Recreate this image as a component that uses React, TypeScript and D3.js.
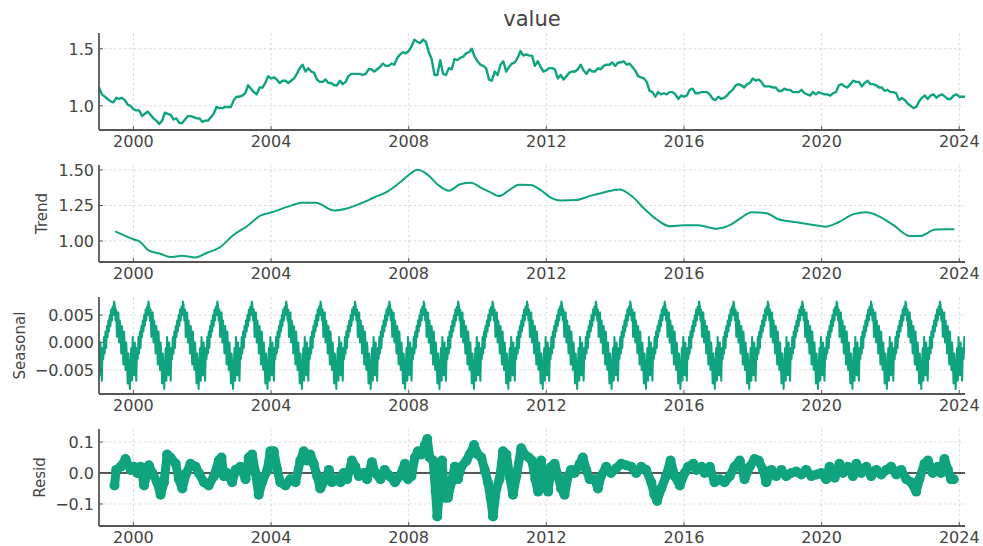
import React, { useEffect, useRef } from 'react';
import * as d3 from 'd3';

// monthly value, Jan 1999 .. Mar 2024
const valueMonthly = [
  1.16, 1.10, 1.08, 1.06, 1.04, 1.03, 1.07, 1.06, 1.07, 1.05, 1.01, 1.00,
  0.97, 0.96, 0.96, 0.91, 0.93, 0.95, 0.92, 0.89, 0.87, 0.84, 0.87, 0.94,
  0.93, 0.92, 0.88, 0.89, 0.85, 0.85, 0.88, 0.91, 0.91, 0.90, 0.89, 0.89,
  0.86, 0.87, 0.87, 0.90, 0.93, 0.99, 0.98, 0.98, 0.99, 0.99, 0.99, 1.05,
  1.08, 1.08, 1.09, 1.11, 1.18, 1.15, 1.12, 1.10, 1.16, 1.16, 1.20, 1.26,
  1.24, 1.25, 1.23, 1.20, 1.22, 1.22, 1.20, 1.22, 1.24, 1.28, 1.33, 1.36,
  1.30, 1.33, 1.30, 1.29, 1.23, 1.21, 1.21, 1.23, 1.20, 1.20, 1.18, 1.18,
  1.22, 1.19, 1.21, 1.26, 1.28, 1.28, 1.28, 1.28, 1.27, 1.28, 1.32, 1.32,
  1.30, 1.32, 1.34, 1.37, 1.35, 1.35, 1.37, 1.36, 1.42, 1.45, 1.47, 1.46,
  1.48, 1.52, 1.58, 1.56, 1.55, 1.58, 1.56, 1.47, 1.41, 1.27, 1.27, 1.40,
  1.28, 1.27, 1.33, 1.32, 1.41, 1.40, 1.42, 1.43, 1.46, 1.47, 1.50, 1.43,
  1.39, 1.36, 1.35, 1.33, 1.23, 1.22, 1.30, 1.27, 1.36, 1.39, 1.30, 1.34,
  1.37, 1.38, 1.42, 1.48, 1.44, 1.45, 1.44, 1.44, 1.35, 1.39, 1.34, 1.30,
  1.31, 1.33, 1.33, 1.32, 1.24, 1.27, 1.23, 1.26, 1.29, 1.30, 1.30, 1.32,
  1.36, 1.31, 1.28, 1.32, 1.30, 1.30, 1.33, 1.32, 1.35, 1.36, 1.36, 1.38,
  1.35, 1.38, 1.38, 1.39, 1.36, 1.37, 1.34, 1.31, 1.26, 1.25, 1.24, 1.21,
  1.13, 1.12, 1.08, 1.12, 1.10, 1.11, 1.10, 1.12, 1.12, 1.10, 1.06, 1.09,
  1.08, 1.09, 1.14, 1.15, 1.11, 1.11, 1.12, 1.12, 1.12, 1.10, 1.06, 1.05,
  1.08, 1.06, 1.07, 1.09, 1.12, 1.14, 1.18, 1.19, 1.18, 1.16, 1.19, 1.20,
  1.24, 1.22, 1.23, 1.21, 1.17, 1.17, 1.17, 1.16, 1.16, 1.13, 1.13, 1.15,
  1.14, 1.14, 1.12, 1.12, 1.12, 1.14, 1.11, 1.10, 1.09, 1.12, 1.10, 1.12,
  1.11, 1.10, 1.10, 1.09, 1.11, 1.12, 1.18, 1.19, 1.17, 1.16, 1.19, 1.22,
  1.21, 1.21, 1.17, 1.20, 1.22, 1.19, 1.19, 1.18, 1.16, 1.16, 1.13, 1.14,
  1.12, 1.12, 1.11, 1.05, 1.07, 1.05, 1.02, 1.00, 0.98, 0.99, 1.04, 1.07,
  1.09, 1.06, 1.09, 1.10, 1.07, 1.09, 1.10, 1.08, 1.06, 1.06, 1.09, 1.10,
  1.08, 1.08, 1.08,
];

const trendYears = [
  1999.47, 2000.0, 2000.2, 2000.44, 2000.78, 2001.07, 2001.4, 2001.8, 2002.14, 2002.5,
  2002.9, 2003.3, 2003.7, 2004.0, 2004.47, 2004.9, 2005.3, 2005.83, 2006.2, 2006.6,
  2006.99, 2007.38, 2007.77, 2008.0, 2008.25, 2008.54, 2008.83, 2009.17, 2009.5, 2009.8,
  2010.14, 2010.34, 2010.63, 2010.92, 2011.21, 2011.55, 2011.84, 2012.14, 2012.43, 2012.86,
  2013.25, 2013.64, 2014.13, 2014.47, 2014.86, 2015.2, 2015.58, 2016.0, 2016.41, 2016.94,
  2017.33, 2017.67, 2017.96, 2018.4, 2018.74, 2019.27, 2019.76, 2020.1, 2020.49, 2020.93,
  2021.31, 2021.7, 2022.09, 2022.57, 2022.86, 2023.3, 2023.64, 2023.86,
];
const trendValues = [
  1.068, 1.012, 0.993, 0.934, 0.91, 0.887, 0.896, 0.884, 0.917, 0.953,
  1.04, 1.104, 1.18, 1.2, 1.24, 1.27, 1.27, 1.215, 1.229, 1.264,
  1.306, 1.347, 1.417, 1.465, 1.502, 1.469, 1.4, 1.354, 1.4, 1.41,
  1.37, 1.347, 1.316, 1.358, 1.396, 1.394, 1.358, 1.304, 1.285, 1.288,
  1.316, 1.34, 1.363, 1.318, 1.224, 1.153, 1.104, 1.111, 1.111, 1.087,
  1.111, 1.165, 1.203, 1.196, 1.153, 1.132, 1.113, 1.101, 1.132, 1.189,
  1.203, 1.17, 1.111, 1.035, 1.035, 1.08, 1.083, 1.083,
];

// one year of the seasonal component (repeats every year by construction)
const seasonalShape = [
  -0.002, -0.006, 0.0, -0.004, -0.007, -0.001, -0.003, 0.001, -0.002, 0.002, -0.001, 0.003,
  0.001, 0.004, 0.002, 0.005, 0.003, 0.006, 0.004, 0.0065, 0.005, 0.0075, 0.0068, 0.004,
  0.006, 0.001, 0.005, 0.0055, 0.0, 0.004, 0.002, -0.002, 0.003, 0.0005, -0.004, 0.002,
  -0.001, -0.005, 0.0, -0.003, -0.0075, -0.002, -0.005, -0.0085, -0.004, -0.001, -0.007, 0.001,
];

const residYears = [
  1999.45, 1999.5, 1999.63, 1999.77, 1999.92, 2000.02, 2000.11, 2000.21, 2000.31, 2000.45,
  2000.55, 2000.69, 2000.79, 2000.89, 2000.98, 2001.08, 2001.23, 2001.32, 2001.42, 2001.54,
  2001.66, 2001.81, 2001.9, 2002.05, 2002.19, 2002.34, 2002.48, 2002.56, 2002.63, 2002.72,
  2002.87, 2002.97, 2003.11, 2003.26, 2003.35, 2003.45, 2003.55, 2003.64, 2003.74, 2003.89,
  2003.98, 2004.08, 2004.18, 2004.27, 2004.42, 2004.56, 2004.71, 2004.85, 2004.95, 2005.05,
  2005.14, 2005.24, 2005.34, 2005.43, 2005.58, 2005.68, 2005.77, 2005.92, 2006.02, 2006.11,
  2006.21, 2006.35, 2006.45, 2006.55, 2006.69, 2006.79, 2006.93, 2007.03, 2007.18, 2007.3,
  2007.45, 2007.6, 2007.74, 2007.89, 2007.98, 2008.08, 2008.18, 2008.27, 2008.37, 2008.47,
  2008.54, 2008.61, 2008.71, 2008.78, 2008.83, 2008.9, 2008.97, 2009.05, 2009.14, 2009.24,
  2009.34, 2009.43, 2009.53, 2009.68, 2009.77, 2009.9, 2010.01, 2010.11, 2010.21, 2010.3,
  2010.38, 2010.45, 2010.55, 2010.64, 2010.74, 2010.84, 2010.93, 2011.03, 2011.13, 2011.27,
  2011.37, 2011.49, 2011.58, 2011.68, 2011.76, 2011.85, 2011.95, 2012.05, 2012.14, 2012.24,
  2012.34, 2012.43, 2012.53, 2012.63, 2012.72, 2012.82, 2012.97, 2013.06, 2013.16, 2013.26,
  2013.4, 2013.5, 2013.59, 2013.74, 2013.88, 2014.03, 2014.18, 2014.32, 2014.47, 2014.61,
  2014.76, 2014.9, 2015.05, 2015.14, 2015.22, 2015.34, 2015.48, 2015.61, 2015.73, 2015.88,
  2016.02, 2016.12, 2016.27, 2016.36, 2016.51, 2016.6, 2016.75, 2016.89, 2017.04, 2017.18,
  2017.33, 2017.47, 2017.62, 2017.76, 2017.91, 2018.05, 2018.17, 2018.3, 2018.39, 2018.54,
  2018.68, 2018.83, 2018.97, 2019.12, 2019.26, 2019.41, 2019.55, 2019.7, 2019.85, 2019.99,
  2020.13, 2020.23, 2020.38, 2020.52, 2020.62, 2020.76, 2020.91, 2021.01, 2021.15, 2021.3,
  2021.44, 2021.59, 2021.73, 2021.88, 2022.02, 2022.17, 2022.31, 2022.46, 2022.6, 2022.75,
  2022.84, 2022.99, 2023.09, 2023.23, 2023.38, 2023.47, 2023.57, 2023.67, 2023.76, 2023.84,
];
const residValues = [
  -0.04, 0.01, 0.02, 0.045, 0.01, 0.02, 0.0, 0.02, -0.04, 0.025,
  0.0, -0.03, -0.07, -0.03, 0.06, 0.05, 0.03, -0.02, -0.05, 0.0,
  0.03, 0.02, 0.0, -0.03, -0.04, -0.01, 0.04, 0.05, -0.01, 0.0,
  -0.03, 0.01, 0.02, -0.02, 0.05, 0.06, 0.0, -0.07, -0.03, 0.01,
  0.07, 0.07, 0.01, -0.03, -0.04, -0.02, -0.03, 0.04, 0.07, 0.04,
  0.06, 0.03, -0.01, -0.05, -0.02, 0.01, -0.03, -0.02, -0.03, 0.0,
  -0.02, 0.04, 0.02, -0.01, 0.0, -0.02, 0.035, 0.0, -0.02, 0.01,
  -0.01, -0.03, -0.01, 0.03, -0.02, -0.01, 0.05, 0.07, 0.06, 0.09,
  0.11, 0.05, 0.04, -0.06, -0.14, -0.05, 0.04, -0.08, -0.08, -0.03,
  0.02, -0.02, 0.02, 0.04, 0.06, 0.09, 0.06, 0.05, 0.01, -0.03,
  -0.08, -0.14, -0.05, -0.02, 0.07, 0.06, -0.01, -0.07, -0.01, 0.08,
  0.06, 0.05, 0.04, -0.02, -0.06, 0.04, -0.04, -0.06, 0.02, 0.03,
  -0.01, -0.05, -0.07, -0.01, 0.01, 0.0, 0.03, 0.05, 0.01, -0.02,
  -0.02, -0.05, -0.01, 0.02, 0.0, 0.015, 0.03, 0.025, 0.02, 0.0,
  0.02, 0.01, -0.03, -0.07, -0.09, -0.05, -0.01, 0.04, -0.01, -0.04,
  0.0, 0.02, 0.03, 0.01, 0.02, 0.0, 0.02, -0.03, -0.02, -0.03,
  -0.01, 0.02, 0.04, -0.02, 0.02, 0.045, 0.04, 0.01, -0.03, 0.01,
  -0.01, 0.01, -0.01, 0.0, 0.005, -0.005, 0.01, -0.01, -0.005, 0.0,
  -0.02, 0.02, -0.015, 0.03, 0.0, 0.02, -0.01, 0.03, 0.0, 0.02,
  -0.01, 0.01, -0.005, 0.01, 0.02, -0.005, 0.01, -0.02, -0.03, -0.06,
  -0.02, 0.03, 0.04, 0.0, 0.02, 0.0, 0.045, 0.01, -0.02, -0.02,
];

const xTicks = [2000, 2004, 2008, 2012, 2016, 2020, 2024];

const GREEN = '#10a37f';
const FONT = 'DejaVu Sans, sans-serif';

const App = () => {
  const ref = useRef<SVGSVGElement>(null);

  useEffect(() => {
    const svg = d3.select(ref.current);
    svg.selectAll('*').remove();

    const left = 99;
    const right = 965;
    const x = d3.scaleLinear().domain([1999, 2024 + 2 / 12]).range([left, right]);

    const valueData = valueMonthly.map((v, i) => ({ t: 1999 + i / 12, v }));
    const trendData = trendYears.map((t, i) => ({ t, v: trendValues[i] }));
    const seasonalData: { t: number; v: number }[] = [];
    for (let yr = 1999; yr <= 2024; yr++) {
      seasonalShape.forEach((v, i) => {
        const t = yr + i / seasonalShape.length;
        if (t <= 2024 + 2 / 12) seasonalData.push({ t, v });
      });
    }
    const residData = residYears.map((t, i) => ({ t, v: residValues[i] }));

    const panels = [
      { top: 33, bottom: 130, domain: [0.788, 1.638], ticks: [1.0, 1.5], fmt: d3.format('.1f'), label: '', labelX: 0, data: valueData, kind: 'line', width: 2.4, curve: d3.curveLinear },
      { top: 165, bottom: 262, domain: [0.852, 1.535], ticks: [1.0, 1.25, 1.5], fmt: d3.format('.2f'), label: 'Trend', labelX: 47, data: trendData, kind: 'line', width: 2, curve: d3.curveMonotoneX },
      { top: 297, bottom: 394, domain: [-0.0094, 0.0083], ticks: [-0.005, 0, 0.005], fmt: d3.format('.3f'), label: 'Seasonal', labelX: 25, data: seasonalData, kind: 'line', width: 2, curve: d3.curveLinear },
      { top: 429, bottom: 526, domain: [-0.171, 0.142], ticks: [-0.1, 0, 0.1], fmt: d3.format('.1f'), label: 'Resid', labelX: 45, data: residData, kind: 'dots', width: 0, curve: d3.curveLinear },
    ];

    panels.forEach((p, pi) => {
      const y = d3.scaleLinear().domain(p.domain).range([p.bottom, p.top]);
      const g = svg.append('g');

      g.append('clipPath')
        .attr('id', `clip${pi}`)
        .append('rect')
        .attr('x', left)
        .attr('y', p.top)
        .attr('width', right - left)
        .attr('height', p.bottom - p.top);

      // grid
      g.selectAll('.gx')
        .data(xTicks)
        .enter()
        .append('line')
        .attr('x1', (d) => x(d))
        .attr('x2', (d) => x(d))
        .attr('y1', p.top)
        .attr('y2', p.bottom)
        .attr('stroke', '#cfcfcf')
        .attr('stroke-width', 0.8)
        .attr('stroke-dasharray', '2.5,2.5');
      g.selectAll('.gy')
        .data(p.ticks)
        .enter()
        .append('line')
        .attr('x1', left)
        .attr('x2', right)
        .attr('y1', (d) => y(d))
        .attr('y2', (d) => y(d))
        .attr('stroke', '#cfcfcf')
        .attr('stroke-width', 0.8)
        .attr('stroke-dasharray', '2.5,2.5');

      const line = d3
        .line<{ t: number; v: number }>()
        .x((d) => x(d.t))
        .y((d) => y(d.v))
        .curve(p.curve);

      const plot = g.append('g').attr('clip-path', `url(#clip${pi})`);
      if (p.kind === 'line') {
        plot
          .append('path')
          .attr('d', line(p.data))
          .attr('fill', 'none')
          .attr('stroke', GREEN)
          .attr('stroke-width', p.width)
          .attr('stroke-linejoin', 'round');
      } else {
        plot
          .append('line')
          .attr('x1', left)
          .attr('x2', right)
          .attr('y1', y(0))
          .attr('y2', y(0))
          .attr('stroke', '#222')
          .attr('stroke-width', 1.5);
        plot
          .append('path')
          .attr('d', line(p.data))
          .attr('fill', 'none')
          .attr('stroke', GREEN)
          .attr('stroke-width', 9)
          .attr('stroke-linejoin', 'round')
          .attr('stroke-linecap', 'round');
        plot
          .selectAll('circle')
          .data(p.data)
          .enter()
          .append('circle')
          .attr('cx', (d) => x(d.t))
          .attr('cy', (d) => y(d.v))
          .attr('r', 5)
          .attr('fill', GREEN);
      }

      // spines
      g.append('line')
        .attr('x1', left)
        .attr('x2', left)
        .attr('y1', p.top)
        .attr('y2', p.bottom)
        .attr('stroke', '#555')
        .attr('stroke-width', 1.8);
      g.append('line')
        .attr('x1', left)
        .attr('x2', right)
        .attr('y1', p.bottom)
        .attr('y2', p.bottom)
        .attr('stroke', '#555')
        .attr('stroke-width', 1.8);

      // ticks
      g.selectAll('.tx')
        .data(xTicks)
        .enter()
        .append('line')
        .attr('x1', (d) => x(d))
        .attr('x2', (d) => x(d))
        .attr('y1', p.bottom)
        .attr('y2', p.bottom - 4)
        .attr('stroke', '#555')
        .attr('stroke-width', 1);
      g.selectAll('.ty')
        .data(p.ticks)
        .enter()
        .append('line')
        .attr('x1', left)
        .attr('x2', left + 4)
        .attr('y1', (d) => y(d))
        .attr('y2', (d) => y(d))
        .attr('stroke', '#555')
        .attr('stroke-width', 1);

      g.selectAll('.lx')
        .data(xTicks)
        .enter()
        .append('text')
        .attr('x', (d) => x(d))
        .attr('y', p.bottom + 17)
        .attr('text-anchor', 'middle')
        .attr('font-family', FONT)
        .attr('font-size', 16)
        .attr('fill', '#444')
        .text((d) => String(d));
      g.selectAll('.ly')
        .data(p.ticks)
        .enter()
        .append('text')
        .attr('x', left - 5)
        .attr('y', (d) => y(d) + 6)
        .attr('text-anchor', 'end')
        .attr('font-family', FONT)
        .attr('font-size', 16)
        .attr('fill', '#444')
        .text((d) => p.fmt(d));

      if (p.label) {
        const cy = (p.top + p.bottom) / 2;
        g.append('text')
          .attr('transform', `translate(${p.labelX},${cy}) rotate(-90)`)
          .attr('text-anchor', 'middle')
          .attr('font-family', FONT)
          .attr('font-size', 15)
          .attr('fill', '#444')
          .text(p.label);
      }
    });

    svg
      .append('text')
      .attr('x', 532)
      .attr('y', 26)
      .attr('text-anchor', 'middle')
      .attr('font-family', FONT)
      .attr('font-size', 21)
      .attr('fill', '#444')
      .text('value');
  }, []);

  return (
    <svg
      ref={ref}
      width={983}
      height={546}
      style={{ position: 'absolute', left: 0, top: 0, background: '#fff' }}
    />
  );
};

export default App;
